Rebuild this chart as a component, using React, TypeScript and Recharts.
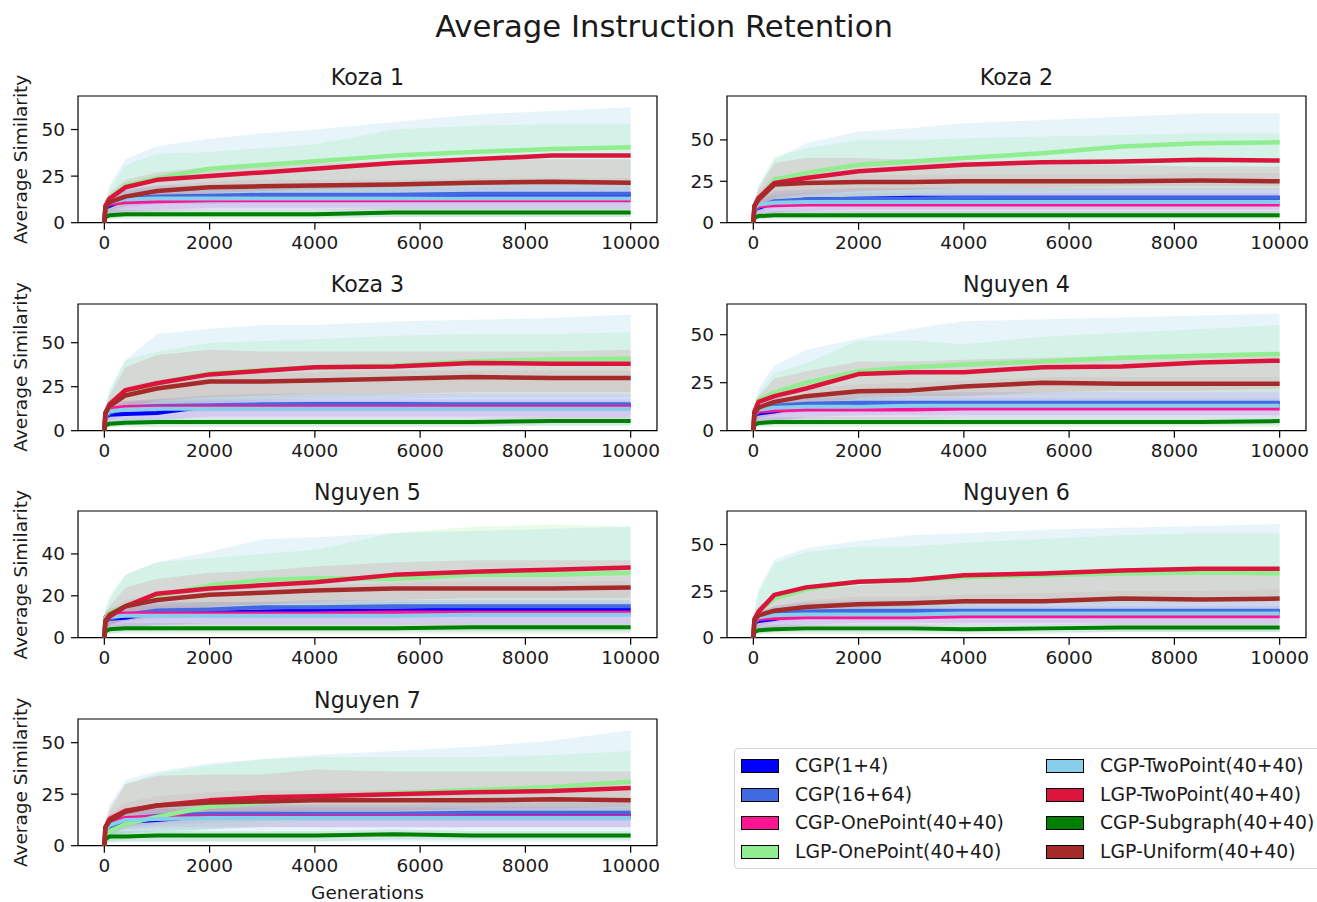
import { ComposedChart, Line, Area, XAxis, YAxis, ReferenceArea } from "recharts";

const GENS = [0, 20, 100, 400, 1000, 2000, 3000, 4000, 5500, 7000, 8500, 10000];

const SERIES = [
  "CGP(1+4)",
  "CGP(16+64)",
  "CGP-OnePoint(40+40)",
  "LGP-OnePoint(40+40)",
  "CGP-TwoPoint(40+40)",
  "LGP-TwoPoint(40+40)",
  "CGP-Subgraph(40+40)",
  "LGP-Uniform(40+40)",
];
const COLORS = ["#0000ff", "#4169e1", "#ff1493", "#90ee90", "#87ceeb", "#dc143c", "#008000", "#a52a2a"];
const BAND_ALPHA = [0.1, 0.1, 0.12, 0.2, 0.2, 0.11, 0.1, 0.06];
const LINE_W = [4, 4, 4, 4.5, 4, 4.5, 4, 4.5];

const X_TICKS = [0, 2000, 4000, 6000, 8000, 10000];

// rows follow SERIES order
const KOZA1_MEAN = [
  [0, 8, 9, 12.5, 13.5, 14, 14, 14.5, 14.5, 15, 15, 15],
  [0, 8, 10, 13, 14, 14.5, 15, 15, 15, 15.5, 15.5, 15.5],
  [0, 9, 10, 11, 11.5, 12, 12, 12, 12, 12, 12, 12],
  [0, 8, 13, 20, 24, 29, 31, 33, 36, 38, 39.5, 40.5],
  [0, 9, 11, 12.5, 13, 13, 13, 13, 13, 13, 13, 13],
  [0, 9, 13, 19, 23, 25, 27, 29, 32, 34, 36, 36],
  [0, 3, 4, 4.5, 4.5, 4.5, 4.5, 4.5, 5.5, 5.5, 5.5, 5.5],
  [0, 8, 11, 14, 17, 19, 19.5, 20, 20.5, 21.5, 22, 21.5],
];
const KOZA1_LOW = [
  [0, 3, 4, 6, 7, 8, 8, 8, 8, 8, 8, 8],
  [0, 5, 7, 9, 10, 10, 11, 11, 11, 11, 11, 11],
  [0, 3, 4, 5, 6, 7, 7, 7, 7, 7, 7, 7],
  [0, 4, 6, 9, 12, 14, 15, 16, 17, 18, 18, 18],
  [0, 2, 2, 3, 3, 3, 3, 3, 3, 3, 3, 3],
  [0, 5, 8, 12, 14, 16, 17, 18, 19, 20, 20, 20],
  [0, 1, 2, 2, 2, 2, 2, 2, 3, 3, 3, 3],
  [0, 4, 6, 8, 10, 11, 12, 12, 12, 12, 12, 12],
];
const KOZA1_HIGH = [
  [0, 12, 14, 18, 20, 20, 21, 21, 21, 21, 21, 21],
  [0, 12, 14, 17, 18, 18, 19, 19, 19, 19, 19, 19],
  [0, 12, 14, 15, 16, 16, 16, 16, 16, 16, 16, 16],
  [0, 10, 18, 31, 37, 38, 40, 42, 50, 52, 53, 53],
  [0, 12, 20, 34, 41, 45, 48, 50, 54, 58, 60, 62],
  [0, 12, 16, 23, 27, 30, 31, 32, 33, 34, 34, 34],
  [0, 5, 7, 7, 7, 7, 7, 7, 8, 8, 8, 8],
  [0, 11, 13, 17, 20, 22, 23, 23, 23, 24, 24, 24],
];

const KOZA2_MEAN = [
  [0, 8, 9, 12, 14, 14.5, 15, 15, 15, 15, 15, 15],
  [0, 8, 9.5, 13, 14, 14.5, 14.5, 15, 15, 15, 15, 15],
  [0, 9, 10, 10.5, 11, 11, 11, 11, 11, 11, 11, 11],
  [0, 9, 14, 26, 30, 35, 37, 39, 42, 46, 48, 48.5],
  [0, 9, 11, 12, 12.5, 12.5, 12.5, 12.5, 12.5, 12.5, 12.5, 12.5],
  [0, 10, 15, 24, 27, 31, 33, 35, 36.5, 37, 38, 37.5],
  [0, 3, 4, 4.5, 4.5, 4.5, 4.5, 4.5, 4.5, 4.5, 4.5, 4.5],
  [0, 10, 14, 23, 24, 24.5, 24.5, 25, 25, 25, 25.5, 25],
];
const KOZA2_LOW = [
  [0, 3, 4, 6, 7, 8, 8, 8, 8, 8, 8, 8],
  [0, 5, 6, 9, 10, 11, 11, 11, 11, 11, 11, 11],
  [0, 3, 4, 5, 6, 6, 6, 6, 6, 6, 6, 6],
  [0, 5, 8, 12, 14, 16, 17, 18, 19, 20, 20, 20],
  [0, 2, 2, 3, 3, 3, 3, 3, 3, 3, 3, 3],
  [0, 6, 9, 15, 17, 19, 20, 21, 21, 22, 22, 22],
  [0, 1, 2, 2, 2, 2, 2, 2, 2, 2, 2, 2],
  [0, 5, 8, 12, 14, 15, 15, 15, 15, 15, 15, 15],
];
const KOZA2_HIGH = [
  [0, 12, 14, 19, 20, 21, 21, 21, 21, 21, 21, 21],
  [0, 12, 14, 17, 18, 18, 18, 18, 18, 18, 18, 18],
  [0, 12, 14, 15, 15, 15, 15, 15, 15, 15, 15, 15],
  [0, 12, 22, 40, 45, 50, 50, 51, 52, 53, 54, 54],
  [0, 14, 22, 38, 48, 55, 57, 60, 62, 64, 66, 66],
  [0, 13, 20, 36, 39, 39, 38, 37, 36, 35, 34, 34],
  [0, 5, 6, 7, 7, 7, 7, 7, 7, 7, 7, 7],
  [0, 12, 18, 28, 29, 29, 29, 29, 29, 29, 30, 30],
];

const KOZA3_MEAN = [
  [0, 8, 9, 9.5, 10, 14, 14.5, 15, 15, 14.5, 14.5, 14.5],
  [0, 8, 10, 13.5, 14, 14.5, 15, 15, 15, 15, 15, 15],
  [0, 10, 12.5, 13.5, 13.5, 13.5, 13.5, 13.5, 13.5, 13.5, 13.5, 13.5],
  [0, 9, 14, 21, 27, 32.5, 34.5, 36, 37, 39.5, 40.5, 41],
  [0, 9, 11, 12, 12.5, 12.5, 12.5, 12.5, 12.5, 12.5, 12.5, 12.5],
  [0, 10, 15, 23, 27, 32, 34, 36, 36.5, 38.5, 38, 38],
  [0, 3, 4, 4.5, 5, 5, 5, 5, 5, 5, 5.5, 5.5],
  [0, 10, 14, 20, 24, 28, 28, 28.5, 29.5, 30.5, 30, 30],
];
const KOZA3_LOW = [
  [0, 3, 4, 5, 6, 8, 8, 8, 8, 8, 8, 8],
  [0, 5, 6, 9, 10, 11, 11, 11, 11, 11, 11, 11],
  [0, 4, 6, 7, 7, 7, 7, 7, 7, 7, 7, 7],
  [0, 5, 8, 11, 14, 17, 18, 19, 20, 21, 21, 21],
  [0, 2, 2, 3, 3, 3, 3, 3, 3, 3, 3, 3],
  [0, 6, 9, 14, 17, 19, 20, 21, 21, 22, 22, 22],
  [0, 1, 2, 2, 2, 2, 2, 2, 2, 2, 3, 3],
  [0, 5, 8, 11, 14, 16, 17, 18, 18, 19, 19, 19],
];
const KOZA3_HIGH = [
  [0, 12, 14, 16, 18, 20, 21, 21, 21, 21, 21, 21],
  [0, 12, 14, 17, 18, 18, 18, 18, 18, 18, 18, 18],
  [0, 13, 16, 17, 17, 17, 17, 17, 17, 17, 17, 17],
  [0, 12, 22, 40, 45, 50, 51, 52, 54, 55, 55, 56],
  [0, 14, 24, 40, 55, 58, 60, 60, 62, 63, 64, 66],
  [0, 13, 20, 36, 43, 46, 45, 45, 45, 45, 45, 46],
  [0, 5, 6, 7, 7, 7, 7, 7, 7, 7, 8, 8],
  [0, 13, 17, 25, 29, 32, 33, 33, 34, 34, 34, 34],
];

const NGUYEN4_MEAN = [
  [0, 8, 9, 10, 13, 13.5, 13.5, 14, 14, 14, 14, 14],
  [0, 8, 10, 13, 14, 14.5, 14.5, 14.5, 14.5, 14.5, 14.5, 14.5],
  [0, 9, 10, 10.5, 11, 11, 11, 11.5, 11.5, 11.5, 11.5, 11.5],
  [0, 9, 16, 20, 25, 31, 33, 34.5, 36, 38, 39, 40],
  [0, 9, 11, 12, 12.5, 12.5, 13, 13, 13, 13, 13, 13],
  [0, 10, 15, 18, 22, 29.5, 30.5, 30.5, 33, 33.5, 35.5, 36.5],
  [0, 3, 4, 4.5, 4.5, 4.5, 4.5, 4.5, 4.5, 4.5, 4.5, 5],
  [0, 9, 12, 15, 18, 20.5, 21, 23, 25, 24.5, 24.5, 24.5],
];
const NGUYEN4_LOW = [
  [0, 3, 4, 5, 7, 8, 8, 8, 8, 8, 8, 8],
  [0, 5, 6, 9, 10, 11, 11, 11, 11, 11, 11, 11],
  [0, 3, 4, 5, 6, 6, 6, 7, 7, 7, 7, 7],
  [0, 5, 8, 11, 13, 16, 17, 18, 19, 20, 20, 20],
  [0, 2, 2, 3, 3, 3, 3, 3, 3, 3, 3, 3],
  [0, 5, 8, 10, 13, 17, 18, 18, 20, 21, 21, 22],
  [0, 1, 2, 2, 2, 2, 2, 2, 2, 2, 2, 2],
  [0, 4, 6, 8, 10, 12, 13, 14, 15, 15, 15, 15],
];
const NGUYEN4_HIGH = [
  [0, 12, 14, 17, 19, 20, 20, 20, 20, 20, 20, 20],
  [0, 12, 14, 16, 17, 17, 17, 17, 17, 17, 17, 17],
  [0, 12, 14, 15, 15, 15, 15, 15, 15, 15, 15, 15],
  [0, 12, 20, 30, 35, 47, 47, 45, 49, 51, 53, 55],
  [0, 14, 22, 34, 42, 48, 53, 57, 58, 59, 60, 61],
  [0, 13, 18, 27, 31, 36, 36, 37, 38, 39, 40, 40],
  [0, 5, 6, 7, 7, 7, 7, 7, 7, 7, 7, 7],
  [0, 11, 14, 19, 22, 24, 25, 26, 28, 28, 28, 28],
];

const NGUYEN5_MEAN = [
  [0, 8, 9, 9.5, 12, 12, 12.5, 13, 13, 13.5, 13.5, 13.5],
  [0, 8, 9, 11, 13, 13.5, 14.5, 14.5, 15, 15, 15, 15],
  [0, 10, 11.5, 11.5, 11.5, 11.5, 11.5, 11.5, 12, 12, 12, 12],
  [0, 9, 12, 15, 20, 25, 27.5, 28.5, 28, 30, 30, 31],
  [0, 9, 10, 10.5, 10.5, 10.5, 10.5, 10.5, 10.5, 11, 11, 11],
  [0, 8, 10, 15, 21, 23.5, 25, 26.5, 30, 31.5, 32.5, 33.5],
  [0, 3, 4, 4.5, 4.5, 4.5, 4.5, 4.5, 4.5, 5, 5, 5],
  [0, 8, 11, 15, 18, 20.5, 21.5, 22.5, 23.5, 23.5, 23.5, 24],
];
const NGUYEN5_LOW = [
  [0, 3, 4, 5, 6, 7, 7, 7, 7, 7, 7, 7],
  [0, 5, 6, 8, 9, 10, 10, 10, 10, 10, 10, 10],
  [0, 3, 4, 5, 6, 6, 6, 6, 6, 6, 6, 6],
  [0, 5, 7, 9, 11, 13, 14, 15, 16, 17, 17, 17],
  [0, 2, 2, 3, 3, 3, 3, 3, 3, 3, 3, 3],
  [0, 4, 6, 9, 13, 15, 16, 17, 18, 19, 19, 19],
  [0, 1, 2, 2, 2, 2, 2, 2, 2, 2, 2, 2],
  [0, 4, 6, 8, 10, 12, 13, 13, 14, 14, 14, 14],
];
const NGUYEN5_HIGH = [
  [0, 12, 13, 15, 17, 17, 17, 18, 18, 18, 18, 18],
  [0, 12, 13, 15, 16, 17, 17, 17, 17, 17, 17, 17],
  [0, 13, 14, 15, 15, 15, 15, 15, 15, 15, 15, 15],
  [0, 12, 18, 30, 36, 38, 40, 42, 50, 53, 54, 53],
  [0, 14, 20, 30, 36, 41, 47, 48, 50, 51, 52, 53],
  [0, 11, 15, 24, 28, 31, 32, 34, 36, 37, 37, 37],
  [0, 5, 6, 7, 7, 7, 7, 7, 7, 7, 7, 7],
  [0, 10, 13, 18, 21, 23, 24, 25, 26, 27, 27, 27],
];

const NGUYEN6_MEAN = [
  [0, 8, 9, 10, 13.5, 13.5, 13.5, 14, 14, 14, 14, 14],
  [0, 8, 10, 13, 14, 14.5, 14.5, 14.5, 14.5, 14.5, 14.5, 14.5],
  [0, 9, 10, 10.5, 11, 11, 11, 11.5, 11.5, 11.5, 11.5, 11.5],
  [0, 9, 14, 21, 26, 30, 31, 32.5, 33.5, 34.5, 35, 34.5],
  [0, 9, 11, 12, 12.5, 12.5, 12.5, 13, 13, 13, 13, 13],
  [0, 10, 14, 23, 27, 30, 31, 33.5, 34.5, 36, 37, 37],
  [0, 3, 4, 4.5, 5, 5, 5, 4.5, 5, 5.5, 5.5, 5.5],
  [0, 9, 12, 14.5, 16.5, 18, 18.5, 19.5, 19.5, 21, 20.5, 21],
];
const NGUYEN6_LOW = [
  [0, 3, 4, 5, 7, 8, 8, 8, 8, 8, 8, 8],
  [0, 5, 6, 9, 10, 11, 11, 11, 11, 11, 11, 11],
  [0, 3, 4, 5, 6, 6, 6, 7, 7, 7, 7, 7],
  [0, 5, 8, 11, 13, 15, 16, 17, 18, 18, 19, 19],
  [0, 2, 2, 3, 3, 3, 3, 3, 3, 3, 3, 3],
  [0, 5, 8, 12, 14, 16, 17, 18, 19, 20, 20, 20],
  [0, 1, 2, 2, 2, 2, 2, 2, 2, 3, 3, 3],
  [0, 4, 6, 8, 10, 11, 12, 12, 13, 13, 14, 14],
];
const NGUYEN6_HIGH = [
  [0, 12, 14, 17, 19, 20, 20, 20, 20, 20, 20, 20],
  [0, 12, 14, 16, 17, 17, 17, 17, 17, 17, 17, 17],
  [0, 12, 14, 15, 15, 15, 15, 15, 15, 15, 15, 15],
  [0, 14, 24, 40, 46, 49, 49, 51, 53, 55, 56, 56],
  [0, 15, 26, 42, 48, 52, 55, 56, 58, 59, 60, 61],
  [0, 13, 17, 22, 25, 28, 30, 32, 33, 34, 34, 34],
  [0, 5, 6, 7, 7, 7, 7, 7, 7, 8, 8, 8],
  [0, 11, 14, 17, 20, 22, 22, 23, 24, 25, 25, 26],
];

const NGUYEN7_MEAN = [
  [0, 7, 8, 11.5, 12.5, 14.5, 15, 15, 15, 15, 15, 15],
  [0, 7, 9, 13, 14.5, 15.5, 15.5, 15.5, 15.5, 16, 16, 16],
  [0, 9, 12, 13.5, 14, 14, 14, 14, 14, 14, 14, 14],
  [0, 5, 7, 10.5, 14, 19, 21, 23.5, 25.5, 27, 28.5, 31],
  [0, 8, 10, 12.5, 13, 13.5, 13.5, 13.5, 13.5, 13.5, 13.5, 13.5],
  [0, 9, 13, 17, 19.5, 22, 23.5, 24, 25, 26, 26.5, 28],
  [0, 3, 4.5, 4.5, 5, 5, 5, 5, 5.5, 5, 5, 5],
  [0, 9, 12, 16.5, 19.5, 21, 21.5, 22, 22, 22, 22.5, 22],
];
const NGUYEN7_LOW = [
  [0, 3, 4, 6, 7, 8, 9, 9, 9, 9, 9, 9],
  [0, 4, 5, 9, 10, 11, 12, 12, 12, 12, 12, 12],
  [0, 4, 6, 8, 9, 9, 9, 9, 9, 9, 9, 9],
  [0, 1, 2, 3, 5, 8, 10, 12, 14, 15, 16, 17],
  [0, 1, 1, 2, 2, 2, 2, 2, 2, 2, 2, 2],
  [0, 5, 8, 11, 13, 15, 16, 17, 17, 18, 18, 19],
  [0, 1, 2, 2, 2, 2, 2, 2, 3, 3, 3, 3],
  [0, 4, 6, 9, 11, 13, 14, 14, 14, 15, 15, 15],
];
const NGUYEN7_HIGH = [
  [0, 11, 13, 17, 19, 20, 20, 20, 20, 21, 21, 21],
  [0, 11, 13, 17, 18, 18, 19, 19, 19, 19, 19, 19],
  [0, 12, 15, 17, 18, 18, 18, 18, 18, 18, 18, 18],
  [0, 10, 16, 30, 35, 39, 42, 43, 43, 43, 44, 46],
  [0, 12, 20, 32, 36, 40, 42, 44, 46, 48, 51, 56],
  [0, 12, 18, 30, 34, 34.5, 34.5, 37, 36, 36, 36, 36],
  [0, 5, 7, 7, 7, 7, 7, 7, 8, 7, 7, 7],
  [0, 11, 15, 21, 24, 26, 27, 27, 27, 28, 28, 28],
];

const PANELS = [
  { title: "Koza 1", mean: KOZA1_MEAN, low: KOZA1_LOW, high: KOZA1_HIGH, yMax: 68, yTicks: [0, 25, 50] },
  { title: "Koza 2", mean: KOZA2_MEAN, low: KOZA2_LOW, high: KOZA2_HIGH, yMax: 76.5, yTicks: [0, 25, 50] },
  { title: "Koza 3", mean: KOZA3_MEAN, low: KOZA3_LOW, high: KOZA3_HIGH, yMax: 72, yTicks: [0, 25, 50] },
  { title: "Nguyen 4", mean: NGUYEN4_MEAN, low: NGUYEN4_LOW, high: NGUYEN4_HIGH, yMax: 66, yTicks: [0, 25, 50] },
  { title: "Nguyen 5", mean: NGUYEN5_MEAN, low: NGUYEN5_LOW, high: NGUYEN5_HIGH, yMax: 60.5, yTicks: [0, 20, 40] },
  { title: "Nguyen 6", mean: NGUYEN6_MEAN, low: NGUYEN6_LOW, high: NGUYEN6_HIGH, yMax: 68, yTicks: [0, 25, 50] },
  { title: "Nguyen 7", mean: NGUYEN7_MEAN, low: NGUYEN7_LOW, high: NGUYEN7_HIGH, yMax: 61.5, yTicks: [0, 25, 50] },
];

const FONT = "DejaVu Sans, Verdana, sans-serif";
const TEXT = "#1a1a1a";
const ROW_TOPS = [96, 303.7, 511.4, 719.1];
const COL_LEFTS = [78, 727];
const PLOT_W = 579;
const PLOT_H = 126.7;
const Y_AXIS_W = 60;
const PAD_TOP = 4;
const PAD_RIGHT = 8;
const X_AXIS_H = 36;

function Panel({ panel, left, top }: { panel: (typeof PANELS)[number]; left: number; top: number }) {
  const rows = GENS.map((g, j) => {
    const row: Record<string, number | number[]> = { gen: g };
    SERIES.forEach((_, k) => {
      row[`m${k}`] = panel.mean[k][j];
      row[`b${k}`] = [panel.low[k][j], panel.high[k][j]];
    });
    return row;
  });
  const tick = { fill: TEXT, fontSize: 18.5, fontFamily: FONT };

  return (
    <div style={{ position: "absolute", left: left - Y_AXIS_W, top: top - PAD_TOP }}>
      <ComposedChart
        width={Y_AXIS_W + PLOT_W + PAD_RIGHT}
        height={PAD_TOP + PLOT_H + X_AXIS_H}
        data={rows}
        margin={{ top: PAD_TOP, right: PAD_RIGHT, bottom: 0, left: 0 }}
      >
        <XAxis
          dataKey="gen"
          type="number"
          domain={[-500, 10500]}
          ticks={X_TICKS}
          allowDataOverflow
          height={X_AXIS_H}
          axisLine={false}
          tickLine={{ stroke: "#000", strokeWidth: 1.2 }}
          tickSize={7}
          tickMargin={6}
          tick={tick}
        />
        <YAxis
          type="number"
          domain={[0, panel.yMax]}
          ticks={panel.yTicks}
          allowDataOverflow
          width={Y_AXIS_W}
          axisLine={false}
          tickLine={{ stroke: "#000", strokeWidth: 1.2 }}
          tickSize={7}
          tickMargin={6}
          tick={tick}
        />
        {SERIES.map((name, k) => (
          <Area
            key={`band-${name}`}
            dataKey={`b${k}`}
            type="linear"
            fill={COLORS[k]}
            fillOpacity={BAND_ALPHA[k]}
            stroke="none"
            isAnimationActive={false}
          />
        ))}
        {SERIES.map((name, k) => (
          <Line
            key={`line-${name}`}
            dataKey={`m${k}`}
            name={name}
            type="linear"
            stroke={COLORS[k]}
            strokeWidth={LINE_W[k]}
            strokeLinejoin="round"
            dot={false}
            activeDot={false}
            isAnimationActive={false}
          />
        ))}
        <ReferenceArea x1={-500} x2={10500} y1={0} y2={panel.yMax} fill="none" stroke="#000" strokeWidth={1.2} />
      </ComposedChart>
    </div>
  );
}

function LegendBox() {
  const rowY = [17, 45.7, 74.4, 103.1];
  return (
    <div
      style={{
        position: "absolute",
        left: 734,
        top: 748,
        width: 600,
        height: 119,
        border: "1px solid #d4d4d4",
        borderRadius: 4,
        background: "rgba(255,255,255,0.8)",
        fontFamily: FONT,
        fontSize: 18.8,
        color: TEXT,
      }}
    >
      {SERIES.map((name, k) => {
        const col = Math.floor(k / 4);
        const y = rowY[k % 4];
        const px = col === 0 ? 6 : 311;
        return (
          <div key={name}>
            <div
              style={{
                position: "absolute",
                left: px,
                top: y - 7,
                width: 36,
                height: 12,
                background: COLORS[k],
                border: "1px solid #000",
              }}
            />
            <div style={{ position: "absolute", left: px + 54, top: y - 12, lineHeight: "24px", whiteSpace: "nowrap" }}>
              {name}
            </div>
          </div>
        );
      })}
    </div>
  );
}

export default function App() {
  return (
    <div
      style={{
        position: "absolute",
        left: 0,
        top: 0,
        width: 1317,
        height: 902,
        overflow: "hidden",
        background: "#fff",
      }}
    >
      <svg width={1317} height={902} style={{ position: "absolute", left: 0, top: 0 }}>
        <text x={664} y={37} textAnchor="middle" fontSize={30.7} fontFamily={FONT} fill={TEXT}>
          Average Instruction Retention
        </text>
        {PANELS.map((p, i) => (
          <text
            key={p.title}
            x={COL_LEFTS[i % 2] + PLOT_W / 2}
            y={ROW_TOPS[Math.floor(i / 2)] - 11.5}
            textAnchor="middle"
            fontSize={22.2}
            fontFamily={FONT}
            fill={TEXT}
          >
            {p.title}
          </text>
        ))}
        {ROW_TOPS.map((t) => (
          <text
            key={t}
            x={27}
            y={t + PLOT_H / 2}
            transform={`rotate(-90, 27, ${t + PLOT_H / 2})`}
            textAnchor="middle"
            fontSize={18.5}
            fontFamily={FONT}
            fill={TEXT}
          >
            Average Similarity
          </text>
        ))}
        <text x={COL_LEFTS[0] + PLOT_W / 2} y={899} textAnchor="middle" fontSize={18.5} fontFamily={FONT} fill={TEXT}>
          Generations
        </text>
      </svg>
      {PANELS.map((p, i) => (
        <Panel key={p.title} panel={p} left={COL_LEFTS[i % 2]} top={ROW_TOPS[Math.floor(i / 2)]} />
      ))}
      <LegendBox />
    </div>
  );
}
